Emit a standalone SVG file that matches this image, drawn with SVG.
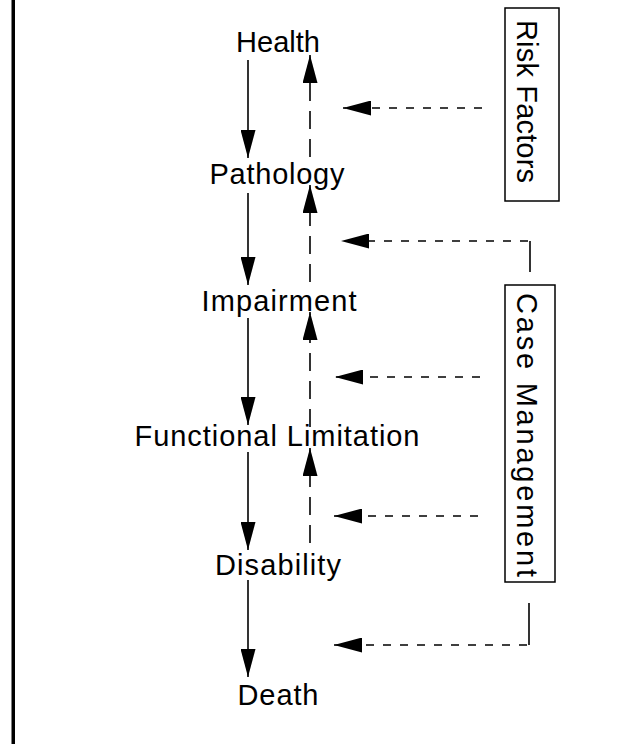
<svg xmlns="http://www.w3.org/2000/svg" width="630" height="744" viewBox="0 0 630 744">
  <style>
    .lbl { font-family: "Liberation Sans", Arial, sans-serif; font-size: 29px; fill: #000; }
    .mid { text-anchor: middle; }
    .solid { stroke: #000; stroke-width: 1.6; fill: none; }
    .long { stroke: #000; stroke-width: 1.6; fill: none; stroke-dasharray: 18 10; }
    .short { stroke: #000; stroke-width: 1.6; fill: none; stroke-dasharray: 8 9; }
    .box { fill: none; stroke: #000; stroke-width: 1.5; }
  </style>
  <defs>
    <marker id="head" markerUnits="userSpaceOnUse" viewBox="0 0 28 15" markerWidth="28" markerHeight="15" refX="28" refY="7.5" orient="auto">
      <path d="M0,0 L28,7.5 L0,15 Z" fill="#000"/>
    </marker>
  </defs>

  <rect x="0" y="0" width="630" height="744" fill="#fff"/>
  <!-- frame edge on the left -->
  <rect x="11.5" y="0" width="3.5" height="744" fill="#000"/>

  <!-- stages -->
  <g id="health"><text class="lbl mid" x="278" y="52" textLength="84">Health</text></g>
  <g id="pathology"><text class="lbl mid" x="277" y="184" textLength="135">Pathology</text></g>
  <g id="impairment"><text class="lbl mid" x="279" y="311" textLength="155">Impairment</text></g>
  <g id="functional-limitation"><text class="lbl mid" x="277" y="446" textLength="285">Functional Limitation</text></g>
  <g id="disability"><text class="lbl mid" x="278" y="575" textLength="126">Disability</text></g>
  <g id="death"><text class="lbl mid" x="278" y="705" textLength="81">Death</text></g>

  <!-- influences -->
  <g id="risk-factors">
    <rect class="box" x="505" y="8" width="54" height="193"/>
    <text class="lbl" transform="translate(517,20) rotate(90)" textLength="163">Risk Factors</text>
  </g>
  <g id="case-management">
    <rect class="box" x="505" y="285" width="50" height="297"/>
    <text class="lbl" transform="translate(517,293) rotate(90)" textLength="284">Case Management</text>
  </g>

  <g id="connectors">
    <!-- progression -->
    <line class="solid" x1="248" y1="60" x2="248" y2="158" marker-end="url(#head)"/>
    <line class="solid" x1="248" y1="193" x2="248" y2="285" marker-end="url(#head)"/>
    <line class="solid" x1="248" y1="318" x2="248" y2="425" marker-end="url(#head)"/>
    <line class="solid" x1="248" y1="452" x2="248" y2="550" marker-end="url(#head)"/>
    <line class="solid" x1="248" y1="580" x2="248" y2="677" marker-end="url(#head)"/>

    <!-- recovery -->
    <line class="long" x1="310" y1="157" x2="310" y2="55" marker-end="url(#head)"/>
    <line class="long" x1="310" y1="282" x2="310" y2="185" marker-end="url(#head)"/>
    <line class="long" x1="310" y1="427" x2="310" y2="312" marker-end="url(#head)"/>
    <line class="long" x1="310" y1="543" x2="310" y2="448" marker-end="url(#head)"/>

    <!-- interventions -->
    <line class="short" x1="482" y1="108" x2="343" y2="108" marker-end="url(#head)"/>
    <line class="solid" x1="530" y1="272" x2="530" y2="241"/>
    <line class="short" x1="528" y1="241" x2="341" y2="241" marker-end="url(#head)"/>
    <line class="short" x1="480" y1="377" x2="335" y2="377" marker-end="url(#head)"/>
    <line class="short" x1="478" y1="516" x2="334" y2="516" marker-end="url(#head)"/>
    <line class="solid" x1="529" y1="603" x2="529" y2="645"/>
    <line class="short" x1="527" y1="645" x2="334" y2="645" marker-end="url(#head)"/>
  </g>
</svg>
